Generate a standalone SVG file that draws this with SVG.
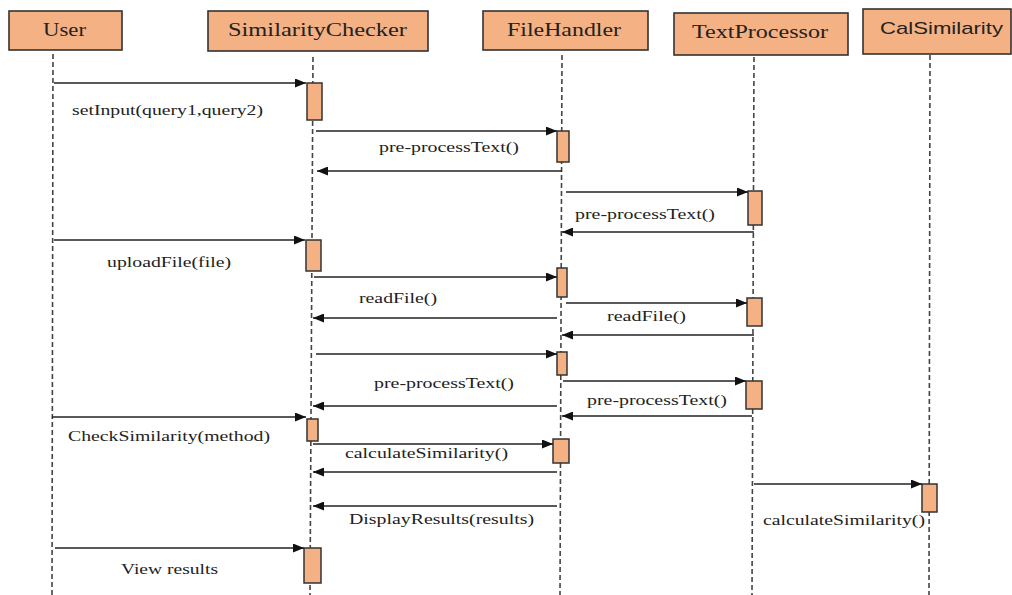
<svg xmlns="http://www.w3.org/2000/svg" width="1012" height="595" viewBox="0 0 1012 595">
<style>
.hdr{fill:#F4B183;stroke:#333;stroke-width:1.6}
.act{fill:#F4B183;stroke:#333;stroke-width:1.5}
.life{stroke:#444;stroke-width:1.6;stroke-dasharray:5 3;fill:none}
.msg{stroke:#222;stroke-width:1.3;fill:none}
.arr{marker-end:url(#ah)}
.ht{font-family:"Liberation Serif",serif;font-size:18px;fill:#222}
.hs{font-family:"Liberation Sans",sans-serif;font-size:17px;fill:#222}
.lb{font-family:"Liberation Serif",serif;font-size:15px;fill:#222}
</style>
<defs>
<marker id="ah" markerWidth="11" markerHeight="9" refX="11" refY="4.5" orient="auto" markerUnits="userSpaceOnUse">
<path d="M0,0 L11,4.5 L0,9 z" fill="#111"/>
</marker>
</defs>
<rect width="1012" height="595" fill="#fff"/>

<g id="User">
<rect class="hdr" x="9" y="11" width="113" height="39"/>
<text class="ht" x="43" y="36" textLength="43" lengthAdjust="spacingAndGlyphs">User</text>
<line class="life" x1="53" y1="54" x2="52" y2="595"/>
</g>

<g id="SimilarityChecker">
<rect class="hdr" x="208" y="11" width="220" height="40"/>
<text class="ht" x="228" y="36" textLength="179" lengthAdjust="spacingAndGlyphs">SimilarityChecker</text>
<line class="life" x1="313" y1="57" x2="310" y2="595"/>
<rect class="act" x="307" y="83" width="15" height="37"/>
<rect class="act" x="306" y="240" width="15" height="31"/>
<rect class="act" x="307" y="419" width="11" height="22"/>
<rect class="act" x="304" y="548" width="17" height="35"/>
</g>

<g id="FileHandler">
<rect class="hdr" x="483" y="11" width="165" height="39"/>
<text class="ht" x="507" y="36" textLength="114" lengthAdjust="spacingAndGlyphs">FileHandler</text>
<line class="life" x1="562" y1="55" x2="560" y2="595"/>
<rect class="act" x="557" y="131" width="12" height="31"/>
<rect class="act" x="557" y="268" width="10" height="29"/>
<rect class="act" x="557" y="352" width="10" height="23"/>
<rect class="act" x="553" y="439" width="16" height="24"/>
</g>

<g id="TextProcessor">
<rect class="hdr" x="674" y="13" width="174" height="42"/>
<text class="ht" x="692" y="38" textLength="136" lengthAdjust="spacingAndGlyphs">TextProcessor</text>
<line class="life" x1="754" y1="57" x2="752" y2="595"/>
<rect class="act" x="748" y="191" width="14" height="34"/>
<rect class="act" x="747" y="298" width="15" height="28"/>
<rect class="act" x="746" y="381" width="16" height="28"/>
</g>

<g id="CalSimilarity">
<rect class="hdr" x="863" y="9" width="148" height="45"/>
<text class="hs" x="880" y="34" textLength="123" lengthAdjust="spacingAndGlyphs">CalSimilarity</text>
<line class="life" x1="930" y1="55" x2="929" y2="595"/>
<rect class="act" x="922" y="484" width="15" height="28"/>
</g>

<g id="connectors">
<path class="msg arr" d="M54,83 H306"/>
<path class="msg arr" d="M316,131 H557"/>
<path class="msg arr" d="M562,171 H317"/>
<path class="msg arr" d="M566,192 H748"/>
<path class="msg arr" d="M754,232 H562"/>
<path class="msg arr" d="M54,240 H305"/>
<path class="msg arr" d="M314,277 H557"/>
<path class="msg arr" d="M566,303 H747"/>
<path class="msg arr" d="M557,318 H313"/>
<path class="msg arr" d="M754,335 H562"/>
<path class="msg arr" d="M316,354 H557"/>
<path class="msg arr" d="M563,381 H746"/>
<path class="msg arr" d="M557,406 H313"/>
<path class="msg arr" d="M752,416 H562"/>
<path class="msg arr" d="M52,417 H306"/>
<path class="msg arr" d="M313,444 H553"/>
<path class="msg arr" d="M557,472 H313"/>
<path class="msg arr" d="M754,484 H922"/>
<path class="msg arr" d="M557,506 H313"/>
<path class="msg arr" d="M55,548 H304"/>

<text class="lb" x="72" y="115" textLength="191" lengthAdjust="spacingAndGlyphs">setInput(query1,query2)</text>
<text class="lb" x="379" y="152" textLength="140" lengthAdjust="spacingAndGlyphs">pre-processText()</text>
<text class="lb" x="575" y="219" textLength="140" lengthAdjust="spacingAndGlyphs">pre-processText()</text>
<text class="lb" x="107" y="267" textLength="124" lengthAdjust="spacingAndGlyphs">uploadFile(file)</text>
<text class="lb" x="359" y="303" textLength="78" lengthAdjust="spacingAndGlyphs">readFile()</text>
<text class="lb" x="607" y="321" textLength="79" lengthAdjust="spacingAndGlyphs">readFile()</text>
<text class="lb" x="374" y="388" textLength="140" lengthAdjust="spacingAndGlyphs">pre-processText()</text>
<text class="lb" x="587" y="405" textLength="140" lengthAdjust="spacingAndGlyphs">pre-processText()</text>
<text class="lb" x="68" y="441" textLength="202" lengthAdjust="spacingAndGlyphs">CheckSimilarity(method)</text>
<text class="lb" x="345" y="458" textLength="163" lengthAdjust="spacingAndGlyphs">calculateSimilarity()</text>
<text class="lb" x="349" y="524" textLength="185" lengthAdjust="spacingAndGlyphs">DisplayResults(results)</text>
<text class="lb" x="763" y="525" textLength="162" lengthAdjust="spacingAndGlyphs">calculateSimilarity()</text>
<text class="lb" x="121" y="574" textLength="97" lengthAdjust="spacingAndGlyphs">View results</text>
</g>
</svg>
